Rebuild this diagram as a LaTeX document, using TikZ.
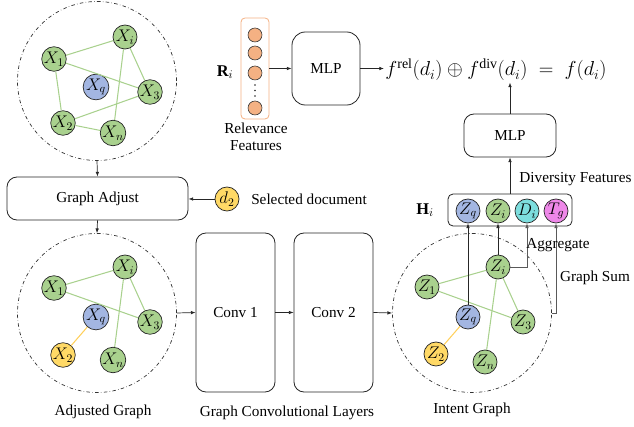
\documentclass[tikz,border=0pt]{standalone}
\usepackage{fontspec}
\setmainfont{Liberation Serif}
\usepackage{amsmath}
\usetikzlibrary{positioning,calc,arrows.meta}

\definecolor{nodegreen}{RGB}{169,209,142}
\definecolor{nodeblue}{RGB}{163,182,226}
\definecolor{nodeyellow}{RGB}{255,217,102}
\definecolor{nodecyan}{RGB}{125,222,222}
\definecolor{nodepink}{RGB}{238,135,232}
\definecolor{featorange}{RGB}{244,177,131}

\tikzset{
  gnode/.style={circle, draw=black!85, line width=0.6pt, fill=nodegreen, inner sep=0pt, minimum size=0.72cm, font=\fontsize{14}{16}\selectfont},
  qnode/.style={gnode, fill=nodeblue},
  ynode/.style={gnode, fill=nodeyellow},
  cnode/.style={gnode, fill=nodecyan},
  pnode/.style={gnode, fill=nodepink},
  gedge/.style={nodegreen, line width=0.9pt},
  yedge/.style={nodeyellow!90!orange, line width=0.9pt},
  ring/.style={circle, draw=black!80, dash dot, line width=0.6pt, inner sep=0pt, minimum size=4.77cm},
  box/.style={draw=black!85, line width=0.7pt, rounded corners=0.3cm},
  arr/.style={-{Latex[length=4pt,width=3pt]}, line width=0.6pt, black!85},
  garr/.style={arr, black!65}
}

\begin{document}
\begin{tikzpicture}[x=0.03cm, y=-0.03cm, font=\fontsize{13}{15}\selectfont]
  \useasboundingbox (0,0) rectangle (634,427);

  % original graph
  \node[ring] (tring) at (97,81) {};
  \node[gnode] (tXi) at (125,37) {$X_i$};
  \node[gnode] (tX1) at (54,59) {$X_1$};
  \node[qnode] (tXq) at (96,87) {$X_q$};
  \node[gnode] (tX3) at (150,92) {$X_3$};
  \node[gnode] (tX2) at (63,123) {$X_2$};
  \node[gnode] (tXn) at (113,133) {$X_n$};
  \draw[gedge] (tX1) -- (tXi);
  \draw[gedge] (tX1) -- (tX3);
  \draw[gedge] (tXi) -- (tX3);
  \draw[gedge] (tXi) -- (tXn);
  \draw[gedge] (tX1) -- (tX2);
  \draw[gedge] (tX2) -- (tX3);
  \draw[gedge] (tX2) -- (tXn);

  % graph adjust with selected document
  \node[box, minimum width=5.43cm, minimum height=1.29cm] (adjust) at (97.5,198.5) {Graph Adjust};
  \node[ynode] (d2) at (227,199) {$d_2$};
  \node (seltxt) at (309,199) {Selected document};
  \draw[arr] (d2) -- (adjust.east |- d2);
  \draw[arr] (tring.south) -- (adjust.north);

  % adjusted graph
  \node[ring] (aring) at (97,313) {};
  \draw[arr] (adjust.south) -- (aring.north);
  \node[gnode] (aXi) at (125,267) {$X_i$};
  \node[gnode] (aX1) at (54,288) {$X_1$};
  \node[qnode] (aXq) at (96,317) {$X_q$};
  \node[gnode] (aX3) at (150,322) {$X_3$};
  \node[ynode] (aX2) at (63,355) {$X_2$};
  \node[gnode] (aXn) at (113,360) {$X_n$};
  \draw[gedge] (aX1) -- (aXi);
  \draw[gedge] (aX1) -- (aX3);
  \draw[gedge] (aXi) -- (aX3);
  \draw[gedge] (aXi) -- (aXn);
  \draw[yedge] (aXq) -- (aX2);
  \node (adjlbl) at (103,412) {Adjusted Graph};

  % graph convolutional layers
  \node[box, minimum width=2.37cm, minimum height=4.77cm] (conv1) at (235.5,312.5) {Conv 1};
  \node[box, minimum width=2.37cm, minimum height=4.77cm] (conv2) at (333.5,312.5) {Conv 2};
  \node (convlbl) at (287,413) {Graph Convolutional Layers};

  % intent graph
  \node[ring] (iring) at (472,313) {};
  \node[gnode] (iZi) at (498,267) {$Z_i$};
  \node[gnode] (iZ1) at (427,287) {$Z_1$};
  \node[qnode] (iZq) at (468,317) {$Z_q$};
  \node[gnode] (iZ3) at (523,322) {$Z_3$};
  \node[ynode] (iZ2) at (436,354) {$Z_2$};
  \node[gnode] (iZn) at (485,362) {$Z_n$};
  \draw[gedge] (iZ1) -- (iZi);
  \draw[gedge] (iZ1) -- (iZ3);
  \draw[gedge] (iZi) -- (iZ3);
  \draw[gedge] (iZi) -- (iZn);
  \draw[yedge] (iZq) -- (iZ2);
  \node (intlbl) at (472,410) {Intent Graph};

  \draw[arr] (aring.east) -- (conv1.west);
  \draw[arr] (conv1.east) -- (conv2.west);
  \draw[arr] (conv2.east) -- (iring.west);

  % H_i
  \node[box, rounded corners=0.15cm, minimum width=3.72cm, minimum height=0.96cm] (hbox) at (510,210) {};
  \node[font=\fontsize{14}{16}\selectfont] (hlbl) at (425,210) {$\mathbf{H}_i$};
  \node[qnode] (hZq) at (468,211) {$Z_q$};
  \node[gnode] (hZi) at (498,211) {$Z_i$};
  \node[cnode] (hDi) at (527,211) {$D_i$};
  \node[pnode] (hTg) at (556,211) {$T_g$};
  \draw[arr] (iZq) -- (hZq);
  \draw[arr] (iZi) -- (hZi);
  \draw[garr] (iZi.east) -| (hDi.south);
  \draw[garr] (iring.east) -| (hTg.south);
  \node (agglbl) at (558,245) {Aggregate};
  \node (sumlbl) at (595,278) {Graph Sum};

  % diversity MLP
  \node[box, minimum width=2.76cm, minimum height=1.29cm] (mlp2) at (510,135.5) {MLP};
  \draw[arr] (hbox.north) -- (mlp2.south);
  \node[anchor=west, inner sep=1pt] (divlbl) at (518,179) {Diversity Features};

  % relevance features
  \node[draw=featorange, line width=0.7pt, rounded corners=0.12cm, minimum width=0.84cm, minimum height=3.03cm] (feat) at (255,68.5) {};
  \foreach \y/\n in {35/1,53/2,73/3,108/4}
    \node[circle, draw=black!80, fill=featorange, line width=0.5pt, inner sep=0pt, minimum size=0.42cm] (f\n) at (255,\y) {};
  \foreach \y/\n in {85/1,90.5/2,96/3}
    \fill[black!85] (255,\y) circle (0.7pt);
  \node[font=\fontsize{14}{16}\selectfont] (rlbl) at (225,72) {$\mathbf{R}_i$};
  \node[align=center] (rellbl) at (256,137) {Relevance\\Features};

  \node[box, rounded corners=0.4cm, minimum width=2.04cm, minimum height=2.19cm] (mlp1) at (326,68.5) {MLP};
  \draw[arr] (feat.east |- mlp1) -- (mlp1.west);

  % output
  \node[font=\fontsize{17}{19}\selectfont, inner sep=1pt] (formula) at (496,70)
    {$f^{\mathrm{rel}}(d_i) \oplus f^{\mathrm{div}}(d_i) \;=\; f(d_i)$};
  \draw[arr] (mlp1.east) -- (mlp1.east -| formula.west);
  \draw[arr] (mlp2.north) -- (mlp2.north |- formula.south);
\end{tikzpicture}
\end{document}
